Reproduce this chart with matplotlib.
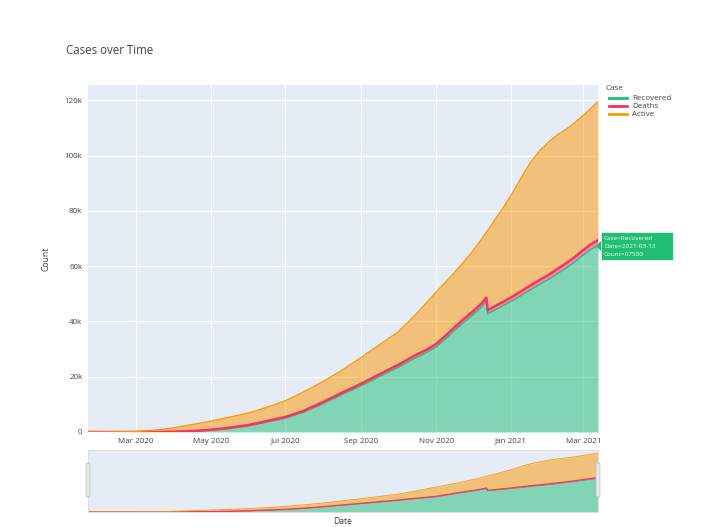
#!/usr/bin/python

import matplotlib
matplotlib.use('Agg')
import matplotlib.pyplot as plt
import matplotlib.dates as mdates
from matplotlib.ticker import FuncFormatter
from matplotlib.patches import Rectangle, Polygon, FancyBboxPatch
from matplotlib.lines import Line2D
import numpy as np
import pandas as pd

W, H = 715, 527

# values (stacked order: recovered, deaths, active)
dates = ['2020-01-22', '2020-02-15', '2020-03-01', '2020-03-15', '2020-04-01',
         '2020-04-15', '2020-05-01', '2020-05-15', '2020-06-01', '2020-06-15',
         '2020-07-01', '2020-07-15', '2020-08-01', '2020-08-15', '2020-09-01',
         '2020-09-15', '2020-10-01', '2020-10-15', '2020-10-24', '2020-11-01',
         '2020-11-08', '2020-11-15', '2020-11-22', '2020-12-01', '2020-12-08',
         '2020-12-12', '2020-12-13', '2020-12-20', '2020-12-27', '2021-01-03',
         '2021-01-10', '2021-01-17', '2021-01-24', '2021-02-01', '2021-02-08',
         '2021-02-15', '2021-02-22', '2021-03-01', '2021-03-07', '2021-03-13']
recovered = [0, 0, 0, 0, 50, 200, 600, 1200, 2200, 3500,
             5000, 7000, 10300, 13300, 16800, 19900, 23400, 26800, 28700, 30800,
             33500, 36300, 39100, 42400, 45200, 47300, 42700, 44400, 46000, 47700,
             49600, 51500, 53300, 55300, 57300, 59300, 61500, 64000, 66000, 67500]
deaths = [0, 0, 0, 10, 50, 120, 200, 260, 320, 380,
          440, 500, 580, 650, 730, 800, 880, 960, 1000, 1050,
          1100, 1150, 1200, 1250, 1290, 1320, 1330, 1370, 1410, 1460,
          1500, 1550, 1590, 1650, 1690, 1730, 1770, 1800, 1840, 1870]
active = [0, 50, 200, 590, 1400, 2280, 3100, 3740, 4380, 4920,
          5860, 6800, 7420, 8050, 9470, 10600, 11920, 14540, 17000, 18750,
          19300, 19750, 20400, 21850, 23210, 23680, 28870, 31630, 34590, 37840,
          41400, 44450, 46610, 48050, 48510, 48470, 48530, 48700, 49160, 50130]

cases = ['Recovered', 'Deaths', 'Active']
colors = ['#21bf73', '#ff2e63', '#fe9801']
y_ticks = [0, 20000, 40000, 60000, 80000, 100000, 120000]
x_ticks = ['2020-03-01', '2020-05-01', '2020-07-01', '2020-09-01',
           '2020-11-01', '2021-01-01', '2021-03-01']
x_range = ['2020-01-22', '2021-03-13']
hover_lines = ['Case=Recovered', 'Date=2021-03-13', 'Count=67500']

BG = '#E5ECF6'
TXT = '#444444'


def fx(x):
    return x / W


def fy(y):
    return 1 - y / H


def draw_areas(ax, x, series, widths):
    base = np.zeros(len(x))
    for vals, col, lw in zip(series, colors, widths):
        top = base + np.array(vals, dtype=float)
        ax.fill_between(x, base, top, color=col, alpha=0.5, lw=0)
        ax.plot(x, top, color=col, lw=lw, solid_joinstyle='round')
        base = top


def main():
    plt.rcParams['font.family'] = ['Open Sans', 'DejaVu Sans']

    x = pd.to_datetime(dates)
    xr = pd.to_datetime(x_range)
    series = [recovered, deaths, active]

    fig = plt.figure(figsize=(W / 100, H / 100), dpi=100)
    fig.patch.set_facecolor('white')

    # main chart
    ax = fig.add_axes([fx(88), fy(432), fx(598) - fx(88), fy(85) - fy(432)])
    ax.set_facecolor(BG)
    ax.set_axisbelow(True)
    draw_areas(ax, x, series, [1.0, 1.8, 1.0])
    ax.set_xlim(xr[0], xr[1])
    ax.set_ylim(0, 125500)
    ax.set_yticks(y_ticks)
    ax.yaxis.set_major_formatter(FuncFormatter(
        lambda v, p: '0' if v == 0 else '%dk' % int(v / 1000)))
    ax.set_xticks(pd.to_datetime(x_ticks))
    ax.xaxis.set_major_formatter(mdates.DateFormatter('%b %Y'))
    ax.grid(True, color='white', lw=0.9)
    ax.tick_params(length=0, labelsize=5.8, colors=TXT, pad=4)
    for s in ax.spines.values():
        s.set_visible(False)
    ax.set_ylabel('Count', fontsize=6.2, color=TXT, labelpad=10)

    # range slider
    ax2 = fig.add_axes([fx(88), fy(512), fx(598) - fx(88), fy(450) - fy(512)])
    ax2.set_facecolor(BG)
    draw_areas(ax2, x, series, [0.6, 0.9, 0.6])
    ax2.set_xlim(xr[0], xr[1])
    ax2.set_ylim(0, 125500)
    ax2.set_xticks([])
    ax2.set_yticks([])
    for s in ax2.spines.values():
        s.set_color('#dddddd')
        s.set_linewidth(0.6)
    for hx in (86, 596):
        fig.add_artist(FancyBboxPatch((fx(hx), fy(497)), fx(4), fy(463) - fy(497),
                                      boxstyle='round,pad=0,rounding_size=0.003',
                                      transform=fig.transFigure, fc='#e8e8e8',
                                      ec='#bdbdbd', lw=0.5))
    fig.text(fx(343), fy(521), 'Date', fontsize=6.2, color=TXT,
             ha='center', va='center')

    # title
    fig.text(fx(66), fy(50), 'Cases over Time', fontsize=8.3, color=TXT,
             ha='left', va='center')

    # legend
    fig.text(fx(605), fy(88), 'Case', fontsize=5.8, color=TXT, ha='left', va='center')
    for i, (name, col) in enumerate(zip(cases, colors)):
        yy = 98 + i * 8
        fig.add_artist(Line2D([fx(609), fx(627)], [fy(yy), fy(yy)],
                              color=col, lw=2, transform=fig.transFigure))
        fig.text(fx(632), fy(yy), name, fontsize=5.8, color=TXT,
                 ha='left', va='center')

    # hover label on the last recovered point
    hc = '#21bf73'
    fig.add_artist(Polygon([[fx(596), fy(246)], [fx(602), fy(240)], [fx(602), fy(252)]],
                           closed=True, transform=fig.transFigure, fc=hc, ec='none'))
    fig.add_artist(Rectangle((fx(601), fy(260)), fx(72), fy(232) - fy(260),
                             transform=fig.transFigure, fc=hc, ec='white', lw=0.5))
    for i, line in enumerate(hover_lines):
        fig.text(fx(604), fy(239 + i * 7.5), line, fontsize=4.6, color='white',
                 ha='left', va='center')

    fig.savefig('out.png', dpi=100, facecolor='white')


if __name__ == "__main__":
    main()
